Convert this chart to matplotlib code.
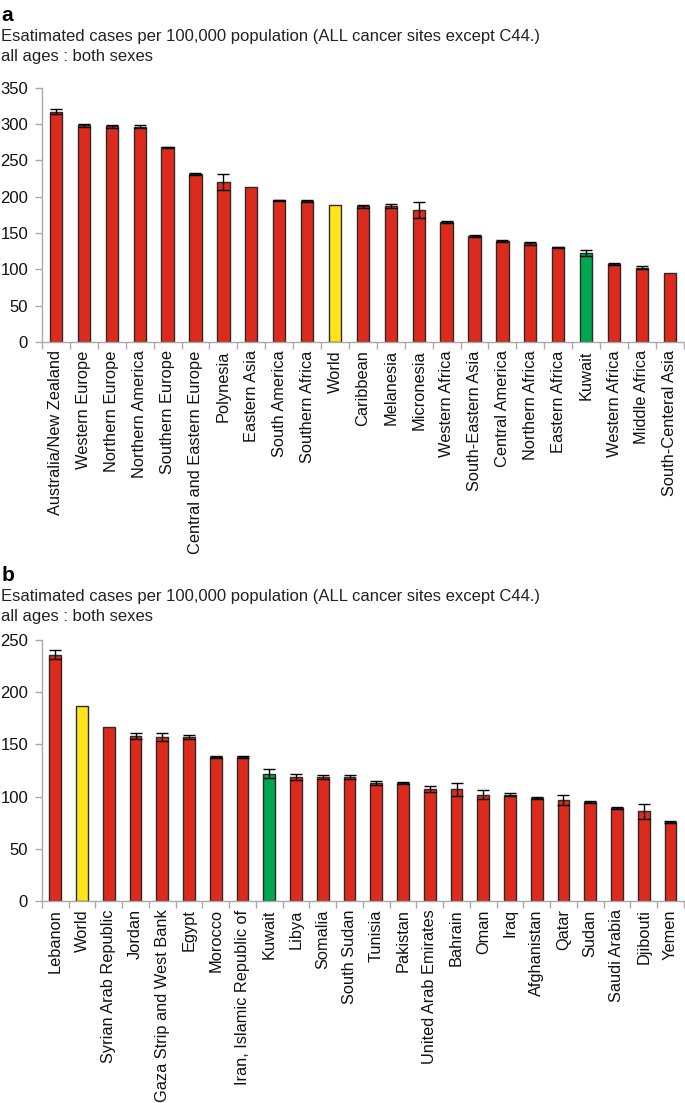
import matplotlib
matplotlib.use("Agg")
import matplotlib.pyplot as plt
import numpy as np
from matplotlib.ticker import FixedLocator, NullFormatter

plt.rcParams['font.family'] = ['Liberation Sans', 'DejaVu Sans']

# ---- Panel a data ----
regions_a = ["Australia/New Zealand", "Western Europe", "Northern Europe", "Northern America",
             "Southern Europe", "Central and Eastern Europe", "Polynesia", "Eastern Asia",
             "South America", "Southern Africa", "World", "Caribbean", "Melanesia", "Micronesia",
             "Western Africa", "South-Eastern Asia", "Central America", "Northern Africa",
             "Eastern Africa", "Kuwait", "Western Africa", "Middle Africa", "South-Centeral Asia"]
values_a = [317, 298, 297, 296, 268, 231, 220, 213, 195, 194, 188, 187, 187, 181,
            165, 146, 139, 136, 130, 122, 107, 102, 95]
errors_a = [3, 2, 2, 2, 1, 1, 11, 0, 1, 1, 0, 2, 3, 11, 1, 1, 1, 2, 1, 4, 1, 2, 0]

# ---- Panel b data ----
countries_b = ["Lebanon", "World", "Syrian Arab Republic", "Jordan", "Gaza Strip and West Bank",
               "Egypt", "Morocco", "Iran, Islamic Republic of", "Kuwait", "Libya", "Somalia",
               "South Sudan", "Tunisia", "Pakistan", "United Arab Emirates", "Bahrain", "Oman",
               "Iraq", "Afghanistan", "Qatar", "Sudan", "Saudi Arabia", "Djibouti", "Yemen"]
values_b = [236, 187, 167, 158, 157, 157, 138, 138, 122, 119, 119, 119, 113, 113,
            107, 107, 102, 102, 99, 97, 95, 89, 86, 76]
errors_b = [4, 0, 0, 3, 4, 2, 1, 1, 4, 3, 2, 2, 2, 1, 3, 6, 4, 1, 1, 5, 1, 1, 7, 1]

title_line1 = "Esatimated cases per 100,000 population (ALL cancer sites except C44.)"
title_line2 = "all ages : both sexes"

RED = "#DC2A1C"
YELLOW = "#FFE419"
GREEN = "#00A650"
EDGE = "#2b2b2b"
SPINE = "#a9a9a9"


def colors_for(labels):
    out = []
    for lab in labels:
        if lab == "World":
            out.append(YELLOW)
        elif lab == "Kuwait":
            out.append(GREEN)
        else:
            out.append(RED)
    return out


def draw(ax, labels, vals, errs, ymax):
    n = len(labels)
    x = np.arange(n)
    ax.bar(x, vals, width=0.44, color=colors_for(labels), edgecolor=EDGE, linewidth=1.0, zorder=2)
    ex = [i for i in range(n) if errs[i] > 0]
    ax.errorbar([x[i] for i in ex], [vals[i] for i in ex], yerr=[errs[i] for i in ex],
                fmt='none', ecolor='black', elinewidth=1.0, capsize=4, capthick=1.0, zorder=3)
    ax.set_xlim(-0.5, n - 0.5)
    ax.set_ylim(0, ymax)
    ax.set_yticks(np.arange(0, ymax + 1, 50))
    ax.set_xticks(x)
    ax.set_xticklabels(labels, rotation=90, fontsize=11.8, color='#111111')
    ax.xaxis.set_minor_locator(FixedLocator(np.arange(-0.5, n, 1.0)))
    ax.xaxis.set_minor_formatter(NullFormatter())
    ax.tick_params(axis='x', which='major', length=0, pad=6)
    ax.tick_params(axis='x', which='minor', length=5, color=SPINE, width=1)
    ax.tick_params(axis='y', length=5, color=SPINE, width=1, labelsize=12, pad=5,
                   labelcolor='#111111')
    for s in ['top', 'right']:
        ax.spines[s].set_visible(False)
    for s in ['left', 'bottom']:
        ax.spines[s].set_color(SPINE)
        ax.spines[s].set_linewidth(1.0)


fig = plt.figure(figsize=(6.85, 11.03), dpi=100)

axa = fig.add_axes([0.0613, 0.690, 0.937, 0.2305])
draw(axa, regions_a, values_a, errors_a, 350)
axb = fig.add_axes([0.0613, 0.1831, 0.937, 0.2367])
draw(axb, countries_b, values_b, errors_b, 250)

dy = 560 / 1103
for k, lab in enumerate(["a", "b"]):
    off = k * dy
    fig.text(0.002, 0.9945 - off, lab, fontsize=15, fontweight='bold', va='top', ha='left')
    fig.text(0.002, 0.9735 - off, title_line1, fontsize=12, va='top', ha='left', color='#222222')
    fig.text(0.002, 0.9555 - off, title_line2, fontsize=12, va='top', ha='left', color='#222222')

fig.savefig("out.png", dpi=100)
